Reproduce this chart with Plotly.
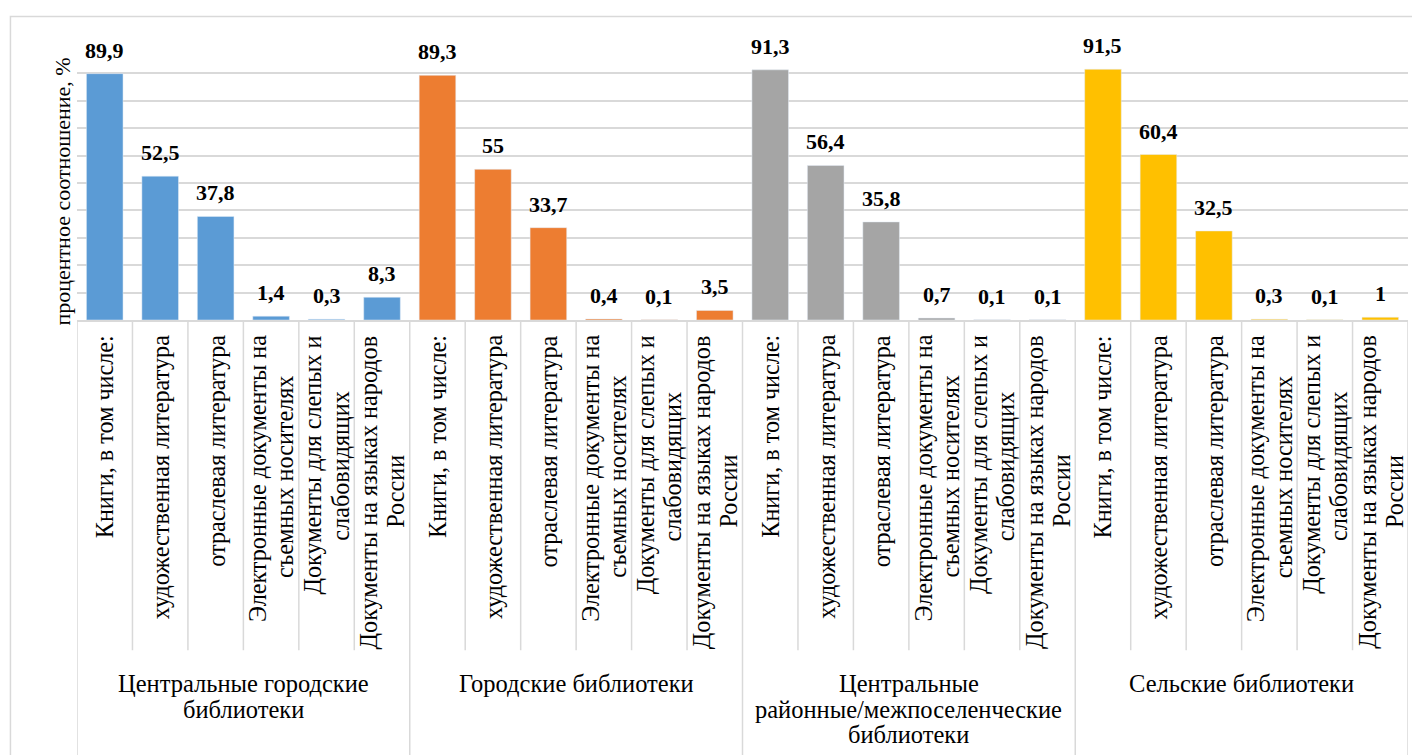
import plotly.graph_objects as go

# группы библиотек и категории документов
groups = [
    "Центральные городские<br>библиотеки",
    "Городские библиотеки",
    "Центральные<br>районные/межпоселенческие<br>библиотеки",
    "Сельские библиотеки",
]
categories = [
    "Книги, в том числе:",
    "художественная литература",
    "отраслевая литература",
    "Электронные документы на<br>съемных носителях",
    "Документы для слепых и<br>слабовидящих",
    "Документы на языках народов<br>России",
]
central_city = [89.9, 52.5, 37.8, 1.4, 0.3, 8.3]
city = [89.3, 55, 33.7, 0.4, 0.1, 3.5]
central_district = [91.3, 56.4, 35.8, 0.7, 0.1, 0.1]
rural = [91.5, 60.4, 32.5, 0.3, 0.1, 1]
colors = ["#5B9BD5", "#ED7D31", "#A5A5A5", "#FFC000"]

series = [central_city, city, central_district, rural]
ncat = len(categories)
FONT = "Liberation Serif"
PLOT_H = 274          # высота области построения, px
CHAR_W = 11.4         # примерная ширина символа подписи, px

fig = go.Figure()
annotations = []
shapes = []

for g, (vals, col) in enumerate(zip(series, colors)):
    xs = [g * ncat + i for i in range(ncat)]
    fig.add_trace(go.Bar(x=xs, y=vals, marker_color=col, width=0.66,
                         showlegend=False, hoverinfo="x+y"))
    # подписи значений
    for x, v in zip(xs, vals):
        annotations.append(dict(
            x=x, y=v, xref="x", yref="y", text="<b>" + f"{v:g}".replace(".", ",") + "</b>",
            showarrow=False, yanchor="bottom", yshift=9,
            font=dict(family=FONT, size=22, color="black")))
    # подписи категорий (вертикальные), строки разнесены вручную
    for i, cat in enumerate(categories):
        lines = cat.split("<br>")
        longest = max(len(s) for s in lines)
        for j, s in enumerate(lines):
            annotations.append(dict(
                x=g * ncat + i + (j - (len(lines) - 1) / 2) * 0.49, y=0,
                xref="x", yref="paper", text=s, textangle=-90, showarrow=False,
                yanchor="top", xanchor="center",
                yshift=-13 - (longest - len(s)) * CHAR_W / 2,
                font=dict(family=FONT, size=24.2, color="black")))
    # подписи групп
    for j, s in enumerate(groups[g].split("<br>")):
        annotations.append(dict(
            x=g * ncat + (ncat - 1) / 2, y=(320 - 683 - 26 * j) / PLOT_H,
            xref="x", yref="paper", text=s, showarrow=False, yanchor="middle",
            font=dict(family=FONT, size=24.5, color="black")))

# разделители подписей оси X
line = dict(color="#D9D9D9", width=1.5)
for k in range(len(series) * ncat + 1):
    xk = k - 0.5
    bottom = -1.7 if k % ncat == 0 else -1.205
    shapes.append(dict(type="line", xref="x", yref="paper", x0=xk, x1=xk,
                       y0=0, y1=bottom, line=line))

# рамка диаграммы
shapes.append(dict(type="rect", xref="paper", yref="paper",
                   x0=-0.05, x1=1.05, y0=-1.8, y1=1.108, line=line))

annotations.append(dict(
    x=-0.011, y=0.47, xref="paper", yref="paper",
    text="процентное соотношение, %", textangle=-90, showarrow=False,
    xanchor="center", yanchor="middle",
    font=dict(family=FONT, size=22, color="black")))

fig.update_layout(
    width=1412, height=747,
    margin=dict(l=69, r=12, t=38, b=435),
    plot_bgcolor="white", paper_bgcolor="white",
    font=dict(family=FONT),
    barmode="overlay",
    annotations=annotations, shapes=shapes,
    xaxis=dict(range=[-0.5, len(series) * ncat - 0.5], showticklabels=False,
               showgrid=False, zeroline=False, showline=True,
               linecolor="#D9D9D9", linewidth=1.5, ticks=""),
    yaxis=dict(range=[0, 100], dtick=10, showticklabels=False,
               gridcolor="#D9D9D9", gridwidth=1.5, zeroline=False),
)

fig.write_html("out.html")
